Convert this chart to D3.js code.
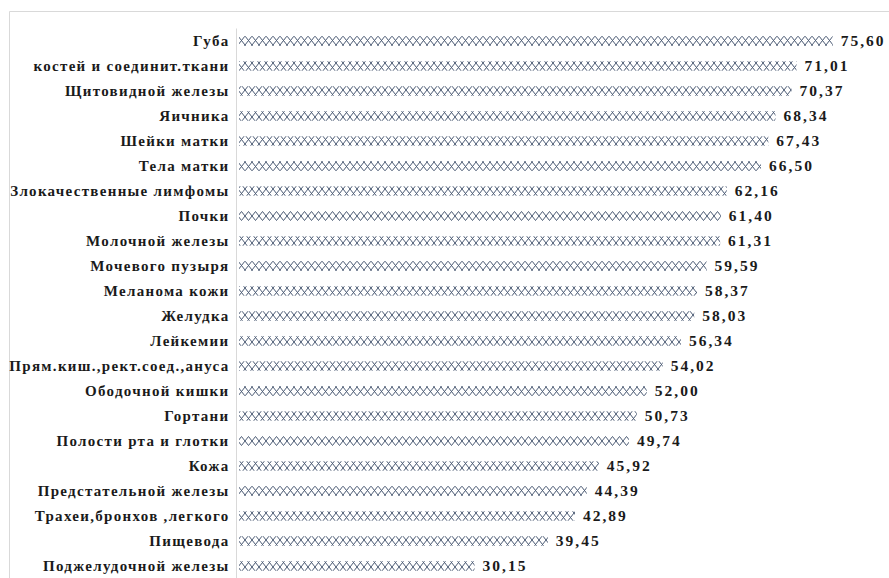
<!DOCTYPE html>
<html>
<head>
<meta charset="utf-8">
<script src="https://cdn.jsdelivr.net/npm/d3@7"></script>
<style>
  html, body { margin: 0; padding: 0; background: #fff; }
  svg { display: block; }
</style>
</head>
<body>
<div id="chart"></div>
<script>
// Five-year survival by tumour site, %
const categories = [
  "Губа",
  "костей и соединит.ткани",
  "Щитовидной железы",
  "Яичника",
  "Шейки матки",
  "Тела матки",
  "Злокачественные лимфомы",
  "Почки",
  "Молочной железы",
  "Мочевого пузыря",
  "Меланома кожи",
  "Желудка",
  "Лейкемии",
  "Прям.киш.,рект.соед.,ануса",
  "Ободочной кишки",
  "Гортани",
  "Полости рта и глотки",
  "Кожа",
  "Предстательной железы",
  "Трахеи,бронхов ,легкого",
  "Пищевода",
  "Поджелудочной железы"
];
const values = [
  75.60, 71.01, 70.37, 68.34, 67.43, 66.50, 62.16, 61.40, 61.31, 59.59, 58.37,
  58.03, 56.34, 54.02, 52.00, 50.73, 49.74, 45.92, 44.39, 42.89, 39.45, 30.15
];
const valueLabels = values.map(v => v.toFixed(2).replace(".", ","));

const W = 889, H = 578;
const FONT = "'Liberation Serif', 'Times New Roman', serif";
const svg = d3.select("#chart").append("svg").attr("width", W).attr("height", H);

// outer chart frame
svg.append("path")
  .attr("d", `M9.5,${H} V11.5 H${W}`)
  .attr("fill", "none").attr("stroke", "#d9d9d9").attr("stroke-width", 1);

// cross-hatch fill for the bars
const defs = svg.append("defs");
const pat = defs.append("pattern")
  .attr("id", "hatch").attr("patternUnits", "userSpaceOnUse")
  .attr("width", 7).attr("height", 9);
pat.append("path")
  .attr("d", "M0,0 L7,9 M7,0 L0,9")
  .attr("stroke", "#4a5a73").attr("stroke-width", 1).attr("fill", "none");

const x0 = 237;
const x = d3.scaleLinear().domain([0, 80]).range([x0, x0 + 80 * 7.88]);
const y = d3.scaleBand().domain(categories).range([28.5, 578.5]).paddingInner(0.62).paddingOuter(0.31);

const rows = categories.map((c, i) => ({ c, v: values[i], label: valueLabels[i] }));

svg.append("g").selectAll("rect").data(rows).join("rect")
  .attr("x", x(0) + 2)
  .attr("y", d => y(d.c))
  .attr("width", d => x(d.v) - x(0) - 2)
  .attr("height", y.bandwidth())
  .attr("fill", "url(#hatch)");

// category axis
const yAxis = svg.append("g").attr("transform", `translate(${x0 - 0.5},0)`)
  .call(d3.axisLeft(y).tickSize(0).tickPadding(7));
yAxis.select(".domain").attr("stroke", "#d9d9d9").attr("d", `M0,28.5V${H}`);
yAxis.selectAll("text")
  .style("font-family", FONT)
  .style("font-weight", "bold")
  .style("font-size", "15px")
  .style("fill", "#1a1a1a")
  .style("letter-spacing", "1.3px")
  .attr("dy", "0.35em");

// value labels
svg.append("g").selectAll("text").data(rows).join("text")
  .attr("x", d => x(d.v) + 8)
  .attr("y", d => y(d.c) + y.bandwidth() / 2)
  .attr("dy", "0.35em")
  .style("font-family", FONT)
  .style("font-weight", "bold")
  .style("font-size", "15.5px")
  .style("fill", "#1a1a1a")
  .style("letter-spacing", "2px")
  .text(d => d.label);
</script>
</body>
</html>
